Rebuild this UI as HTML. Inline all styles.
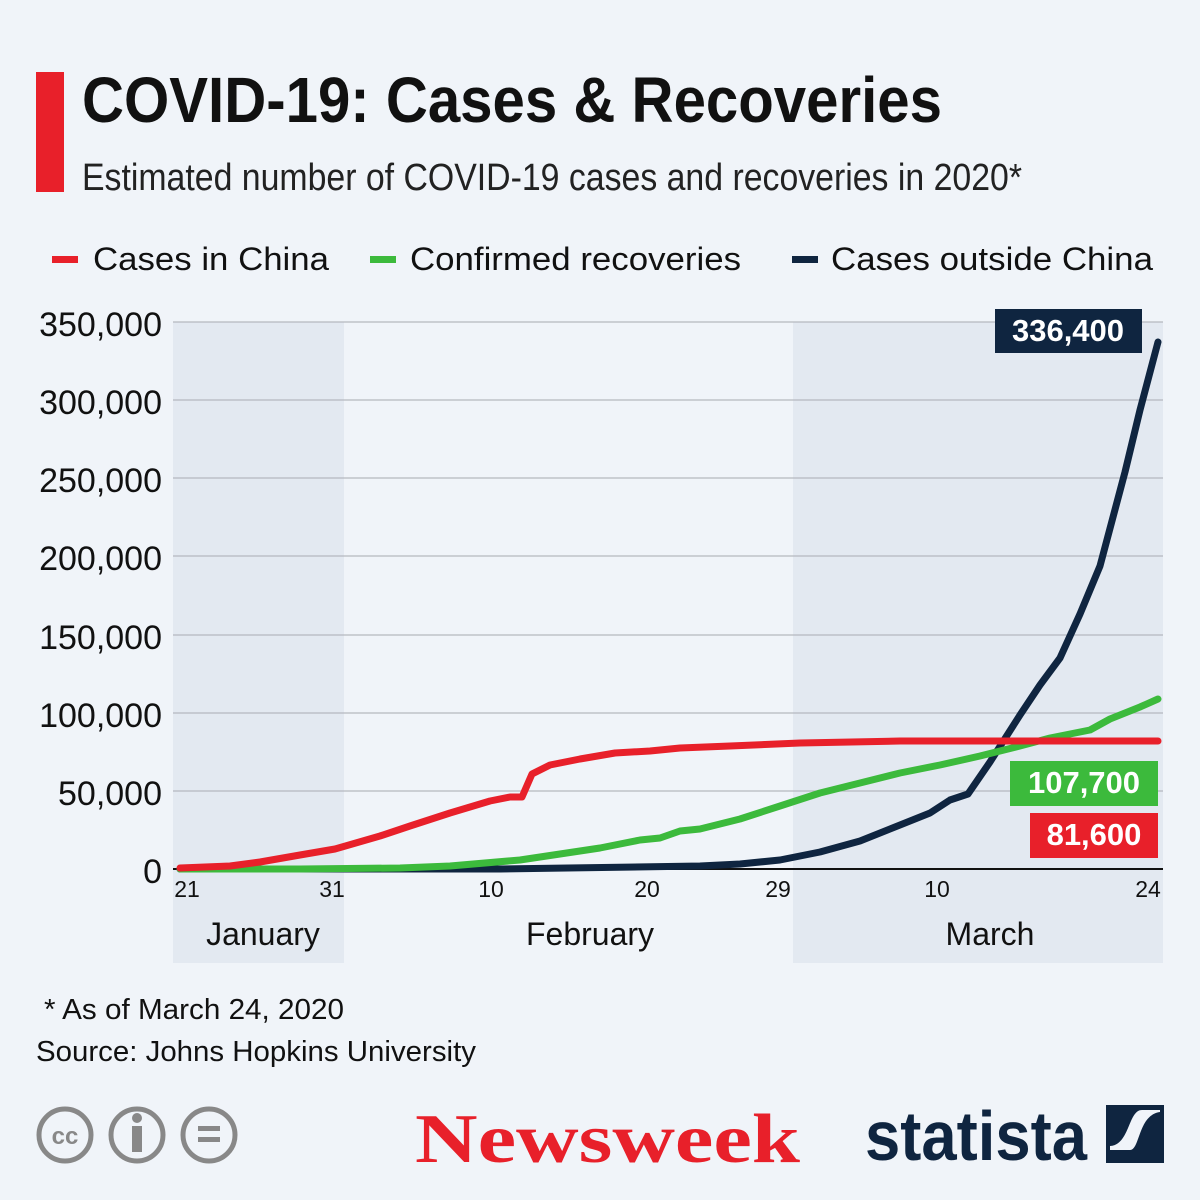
<!DOCTYPE html><html><head><style>
body{margin:0;width:1200px;height:1200px;background:#f0f4f9;font-family:"Liberation Sans",sans-serif;overflow:hidden;position:relative}
.a{position:absolute;white-space:nowrap}
</style></head><body>
<div class="a" style="left:36px;top:72px;width:28px;height:120px;background:#e8202a"></div>
<svg class="a" style="left:0;top:0" width="1200" height="1200">
<text x="82" y="122" font-size="64" font-weight="bold" fill="#111" textLength="860" lengthAdjust="spacingAndGlyphs">COVID-19: Cases &amp; Recoveries</text>
<text x="82" y="190" font-size="38" fill="#222" textLength="940" lengthAdjust="spacingAndGlyphs">Estimated number of COVID-19 cases and recoveries in 2020*</text>
<g font-family="Liberation Sans" font-size="32" fill="#111">
<rect x="52" y="256" width="26" height="7" fill="#e8202a"/><text x="93" y="270" textLength="236" lengthAdjust="spacingAndGlyphs">Cases in China</text>
<rect x="370" y="256" width="26" height="7" fill="#3cba3c"/><text x="410" y="270" textLength="331" lengthAdjust="spacingAndGlyphs">Confirmed recoveries</text>
<rect x="792" y="256" width="26" height="7" fill="#0f2540"/><text x="831" y="270" textLength="322" lengthAdjust="spacingAndGlyphs">Cases outside China</text>
</g>
<rect x="173" y="322" width="171" height="641" fill="#e3e9f1"/>
<rect x="793" y="322" width="370" height="641" fill="#e3e9f1"/>
<g stroke="#b5b9bf" stroke-width="1.2">
<line x1="173" x2="1163" y1="322" y2="322"/><line x1="173" x2="1163" y1="400" y2="400"/><line x1="173" x2="1163" y1="478" y2="478"/><line x1="173" x2="1163" y1="556" y2="556"/><line x1="173" x2="1163" y1="635" y2="635"/><line x1="173" x2="1163" y1="713" y2="713"/><line x1="173" x2="1163" y1="791" y2="791"/>
</g>
<line x1="173" x2="1163" y1="869" y2="869" stroke="#111" stroke-width="2"/>
<g font-size="34" fill="#111" text-anchor="end">
<text x="162" y="336">350,000</text><text x="162" y="414">300,000</text><text x="162" y="492">250,000</text><text x="162" y="570">200,000</text><text x="162" y="649">150,000</text><text x="162" y="727">100,000</text><text x="162" y="805">50,000</text><text x="162" y="883">0</text>
</g>
<g font-size="23" fill="#111" text-anchor="middle">
<text x="187" y="897">21</text><text x="332" y="897">31</text><text x="491" y="897">10</text><text x="647" y="897">20</text><text x="778" y="897">29</text><text x="937" y="897">10</text><text x="1148" y="897">24</text>
</g>
<g font-size="32" fill="#111" text-anchor="middle">
<text x="263" y="945">January</text><text x="590" y="945">February</text><text x="990" y="945">March</text>
</g>
<g fill="none" stroke-width="7" stroke-linejoin="round" stroke-linecap="round">
<polyline stroke="#0f2540" points="180,869 500,869 700,866 740,864 780,860 820,852 860,841 900,825 930,813 950,800 968,794 990,762 1020,715 1040,685 1060,658 1080,614 1100,566 1125,472 1140,410 1158,342"/>
<polyline stroke="#3cba3c" points="180,869 300,869 400,868 450,866 520,860 560,854 600,848 640,840 660,838 680,831 700,829 740,819 780,806 820,793 860,783 900,773 940,765 980,756 1020,746 1050,738 1090,730 1110,719 1130,711 1140,707 1158,699"/>
<polyline stroke="#e8202a" points="180,868 230,866 260,862 300,855 335,849 380,836 410,826 450,813 490,801 510,797 522,797 532,774 550,765 580,759 615,753 650,751 680,748 730,746 800,743 900,741 1000,741 1158,741"/>
</g>
<rect x="995" y="309" width="147" height="44" fill="#0f2540"/>
<text x="1068" y="341" font-size="31" font-weight="bold" fill="#fff" text-anchor="middle">336,400</text>
<rect x="1010" y="761" width="148" height="45" fill="#3cba3c"/>
<text x="1084" y="793" font-size="31" font-weight="bold" fill="#fff" text-anchor="middle">107,700</text>
<rect x="1030" y="813" width="128" height="45" fill="#e8202a"/>
<text x="1094" y="845" font-size="31" font-weight="bold" fill="#fff" text-anchor="middle">81,600</text>
<g font-size="29" fill="#111"><text x="44" y="1019" textLength="300" lengthAdjust="spacingAndGlyphs">* As of March 24, 2020</text><text x="36" y="1061" textLength="440" lengthAdjust="spacingAndGlyphs">Source: Johns Hopkins University</text></g>
<g fill="none" stroke="#888" stroke-width="5">
<circle cx="65" cy="1135" r="26"/><circle cx="137" cy="1135" r="26"/><circle cx="209" cy="1135" r="26"/></g>
<text x="65" y="1144" font-size="24" font-weight="bold" fill="#888" text-anchor="middle">cc</text>
<circle cx="137" cy="1118" r="5" fill="#888"/><rect x="132" y="1126" width="10" height="26" fill="#888"/>
<rect x="198" y="1126" width="22" height="5" fill="#888"/><rect x="198" y="1137" width="22" height="5" fill="#888"/>
<text x="415" y="1162" font-family="Liberation Serif" font-size="70" font-weight="bold" fill="#e8202a" textLength="385" lengthAdjust="spacingAndGlyphs">Newsweek</text>
<text x="865" y="1160" font-size="70" font-weight="bold" fill="#0f2540" textLength="222" lengthAdjust="spacingAndGlyphs">statista</text>
<rect x="1106" y="1105" width="58" height="58" fill="#0f2540"/>
<path d="M1110 1150 L1130 1150 C1140 1150 1138 1115 1160 1112 L1160 1110 L1142 1110 C1128 1110 1130 1145 1110 1146Z" fill="#f0f4f9"/>
</svg>
</body></html>
